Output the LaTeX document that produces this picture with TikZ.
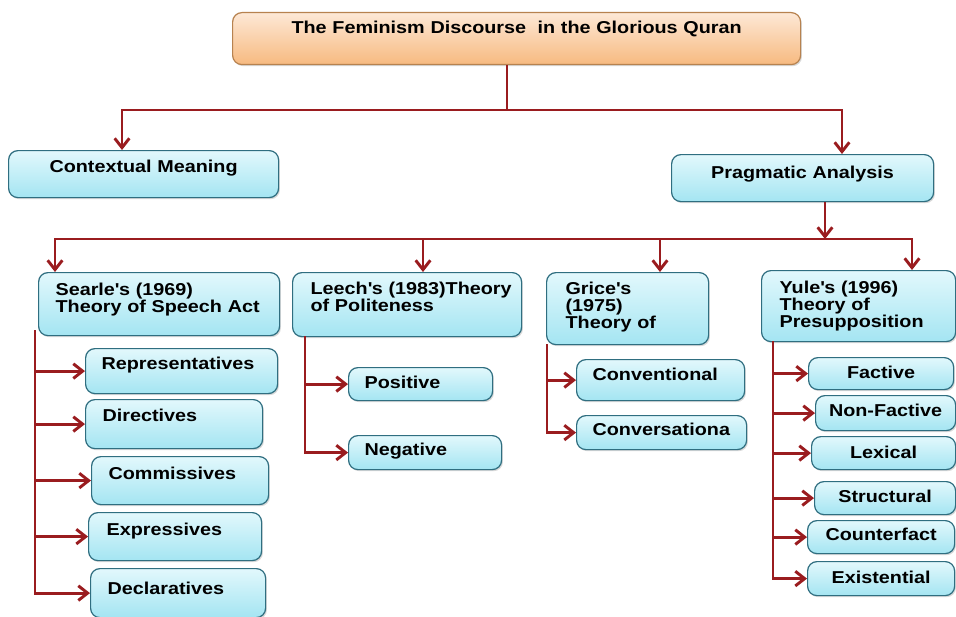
\documentclass[tikz,border=0pt]{standalone}
\usepackage{fontspec}
\setmainfont{Liberation Sans}[FakeStretch=1.15]
\usetikzlibrary{arrows.meta,shadows}

\definecolor{linkred}{HTML}{9A1C1F}
\definecolor{boxline}{HTML}{2F6E80}
\definecolor{boxtop}{HTML}{E2F8FC}
\definecolor{boxbot}{HTML}{A4E5F2}
\definecolor{titletop}{HTML}{FDE8D6}
\definecolor{titlebot}{HTML}{F7BA80}
\definecolor{titleline}{HTML}{B7824F}

\begin{document}
\begin{tikzpicture}[
                x=0.75pt, y=-0.75pt,
                every node/.style={font=\fontsize{12.9}{12.75}\selectfont\bfseries},
                cbox/.style={draw=boxline, line width=0.9pt, rounded corners=7pt,
                    top color=boxtop, bottom color=boxbot, anchor=north west,
                    inner ysep=0pt, text height=10pt,
                    drop shadow={shadow xshift=1pt, shadow yshift=-1.2pt, opacity=0.3}},
                tbox/.style={cbox, draw=titleline, top color=titletop, bottom color=titlebot},
                ln/.style={draw=linkred, line width=2.2pt},
                arr/.style={ln, -{Straight Barb[length=7pt,width=11pt]}}
            ]
            \useasboundingbox (0,0) rectangle (956,617);

            % top and first level
            \node[tbox, align=center, inner xsep=10pt, text width=406pt, minimum height=39pt, text depth=17.5pt]
                (title) at (232,12) {The Feminism Discourse \ in the Glorious Quran};
            \node[cbox, align=center, inner xsep=10pt, text width=182.5pt, minimum height=35.25pt, text depth=12.25pt]
                (ctx) at (8,150) {Contextual Meaning};
            \node[cbox, align=center, inner xsep=10pt, text width=176.5pt, minimum height=35.25pt, text depth=9.25pt]
                (prag) at (671,154) {Pragmatic Analysis};

            % theories
            \node[cbox, align=left, inner xsep=12.75pt, text width=155.25pt, minimum height=47.25pt, text depth=22.75pt]
                (searle) at (38,272) {Searle\textquotesingle s (1969)\\\mbox{Theory of Speech Act}};
            \node[cbox, align=left, inner xsep=13.5pt, text width=144.75pt, minimum height=48pt, text depth=25pt]
                (leech) at (292,272) {\mbox{Leech\textquotesingle s (1983)Theory}\\of Politeness};
            \node[cbox, align=left, inner xsep=14.25pt, text width=93pt, minimum height=54pt, text depth=31pt]
                (grice) at (546,272) {Grice\textquotesingle s\\(1975)\\Theory of};
            \node[cbox, align=left, inner xsep=13.5pt, text width=118.5pt, minimum height=53.25pt, text depth=28.75pt]
                (yule) at (761,270) {Yule\textquotesingle s (1996)\\Theory of\\Presupposition};

            % speech acts
            \node[cbox, align=left, inner xsep=12pt, text width=120pt, minimum height=33.75pt, text depth=12.25pt]
                (rep) at (85,348) {Representatives};
            \node[cbox, align=left, inner xsep=12.75pt, text width=107.25pt, minimum height=36.75pt, text depth=13.75pt]
                (dir) at (85,399) {Directives};
            \node[cbox, align=left, inner xsep=12.75pt, text width=107.25pt, minimum height=36pt, text depth=11.5pt]
                (com) at (91,456) {Commissives};
            \node[cbox, align=left, inner xsep=13.5pt, text width=102.75pt, minimum height=36pt, text depth=11.5pt]
                (expr) at (88,512) {Expressives};
            \node[cbox, align=left, inner xsep=12.75pt, text width=105.75pt, minimum height=36.75pt, text depth=7.75pt]
                (decl) at (90,568) {Declaratives};

            % politeness
            \node[cbox, align=left, inner xsep=12pt, text width=84pt, minimum height=24.75pt, text depth=3.25pt]
                (pos) at (348,367) {Positive};
            \node[cbox, align=left, inner xsep=12pt, text width=90.75pt, minimum height=25.5pt, text depth=5.5pt]
                (neg) at (348,435) {Negative};

            % implicature
            \node[cbox, align=left, inner xsep=12pt, text width=102pt, minimum height=30.75pt, text depth=9.25pt]
                (conv) at (576,359) {Conventional};
            \node[cbox, align=left, inner xsep=12pt, text width=103.5pt, minimum height=25.5pt, text depth=5.5pt]
                (convs) at (576,415) {Conversationa};

            % presupposition
            \node[cbox, align=center, inner xsep=6pt, text width=96.75pt, minimum height=24pt, text depth=2.5pt]
                (fac) at (808,357) {Factive};
            \node[cbox, align=center, inner xsep=6pt, text width=93pt, minimum height=26.25pt, text depth=4.75pt]
                (nfac) at (815,395) {Non-Factive};
            \node[cbox, align=center, inner xsep=6pt, text width=96pt, minimum height=24.75pt, text depth=1.75pt]
                (lex) at (811,436) {Lexical};
            \node[cbox, align=center, inner xsep=6pt, text width=93.75pt, minimum height=24.75pt, text depth=3.25pt]
                (struc) at (814,481) {Structural};
            \node[cbox, align=center, inner xsep=6pt, text width=98.25pt, minimum height=24.75pt, text depth=4.75pt]
                (cfac) at (807,520) {Counterfact};
            \node[cbox, align=center, inner xsep=6pt, text width=98.25pt, minimum height=25.5pt, text depth=2.5pt]
                (exist) at (807,561) {Existential};

            % connectors
            \coordinate (j0) at (507,110);
            \coordinate (jl) at (122,110);
            \coordinate (jr) at (842,110);
            \draw[ln] (title.south -| j0) -- (j0);
            \draw[arr] (j0) -| (ctx.north -| jl);
            \draw[arr] (j0) -| (prag.north -| jr);

            \coordinate (k0) at (825,239);
            \coordinate (k1) at (55,239);
            \coordinate (k2) at (423,239);
            \coordinate (k3) at (660,239);
            \coordinate (k4) at (912,239);
            \draw[arr] (prag.south -| k0) -- (k0);
            \draw[arr] (k0) -| (searle.north -| k1);
            \draw[arr] (k0) -| (yule.north -| k4);
            \draw[arr] (k2) -- (leech.north -| k2);
            \draw[arr] (k3) -- (grice.north -| k3);

            \coordinate (s0) at (35,330);
            \draw[arr] (s0) |- (decl.west);
            \draw[arr] (s0 |- rep.west) -- (rep.west);
            \draw[arr] (s0 |- dir.west) -- (dir.west);
            \draw[arr] (s0 |- com.west) -- (com.west);
            \draw[arr] (s0 |- expr.west) -- (expr.west);

            \coordinate (l0) at (305,336);
            \draw[arr] (l0) |- (neg.west);
            \draw[arr] (l0 |- pos.west) -- (pos.west);

            \coordinate (g0) at (547,344);
            \draw[arr] (g0) |- (convs.west);
            \draw[arr] (g0 |- conv.west) -- (conv.west);

            \coordinate (y0) at (773,341);
            \draw[arr] (y0) |- (exist.west);
            \draw[arr] (y0 |- fac.west) -- (fac.west);
            \draw[arr] (y0 |- nfac.west) -- (nfac.west);
            \draw[arr] (y0 |- lex.west) -- (lex.west);
            \draw[arr] (y0 |- struc.west) -- (struc.west);
            \draw[arr] (y0 |- cfac.west) -- (cfac.west);
        \end{tikzpicture}
\end{document}
